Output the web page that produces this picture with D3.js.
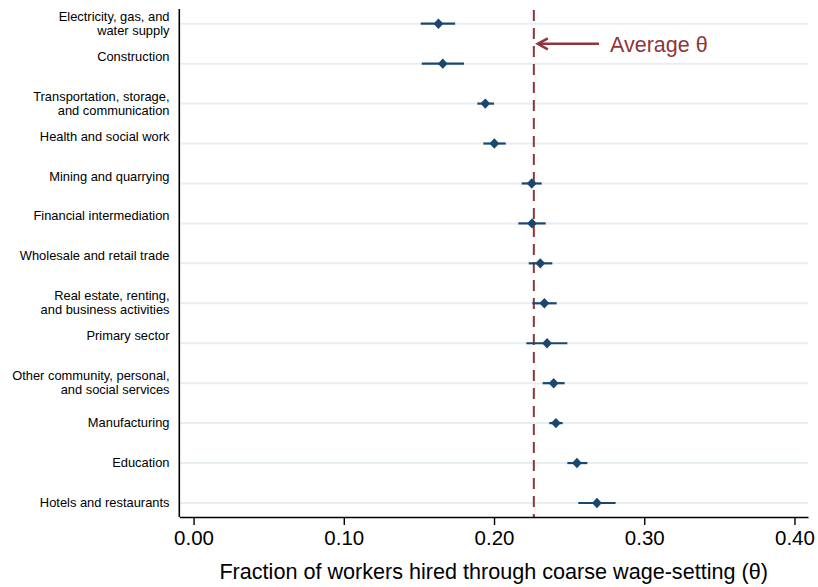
<!DOCTYPE html>
<html>
<head>
<meta charset="utf-8">
<script src="https://cdn.jsdelivr.net/npm/d3@7"></script>
<style>
  html, body { margin: 0; padding: 0; background: #fff; }
  svg { display: block; font-family: "Liberation Sans", Arial, Helvetica, sans-serif; }
</style>
</head>
<body>
<svg id="chart" width="818" height="587"></svg>
<script>
// ---- Data ----
const categories = [
  ["Electricity, gas, and", "water supply"],
  ["Construction", ""],
  ["Transportation, storage,", "and communication"],
  ["Health and social work", ""],
  ["Mining and quarrying", ""],
  ["Financial intermediation", ""],
  ["Wholesale and retail trade", ""],
  ["Real estate, renting,", "and business activities"],
  ["Primary sector", ""],
  ["Other community, personal,", "and social services"],
  ["Manufacturing"],
  ["Education"],
  ["Hotels and restaurants"]
];
const theta   = [0.1630, 0.1659, 0.1942, 0.2002, 0.2251, 0.2253, 0.2308, 0.2335, 0.2353, 0.2397, 0.2412, 0.2552, 0.2685];
const ciLow   = [0.1512, 0.1519, 0.1889, 0.1929, 0.2184, 0.2162, 0.2231, 0.2255, 0.2215, 0.2324, 0.2368, 0.2488, 0.2561];
const ciHigh  = [0.1741, 0.1800, 0.2000, 0.2078, 0.2317, 0.2344, 0.2388, 0.2417, 0.2488, 0.2470, 0.2457, 0.2621, 0.2809];
const averageTheta = 0.2265;
const xTicks = [0.00, 0.10, 0.20, 0.30, 0.40];
const xTitle = "Fraction of workers hired through coarse wage-setting (\u03B8)";
const annotationText = "Average \u03B8";

// ---- Layout ----
const plotLeft = 179.3, plotRight = 808, plotTop = 9, plotBottom = 517;
const navy = "#1a476f", cranberry = "#90353b", gridCol = "#e7eef2";

const svg = d3.select("#chart");

const x = d3.scaleLinear().domain([-0.0095, 0.409]).range([plotLeft, plotRight]);
const y = d3.scalePoint().domain(d3.range(categories.length)).range([23.7, 503]);

// gridlines
svg.append("g").selectAll("line").data(d3.range(categories.length)).join("line")
  .attr("x1", plotLeft + 1).attr("x2", plotRight)
  .attr("y1", d => y(d)).attr("y2", d => y(d))
  .attr("stroke", gridCol).attr("stroke-width", 2);

// category labels (one text element per category, lines as tspans)
const lineGap = 14, labelRight = 169.5;
const lab = svg.append("g").attr("font-size", 12.4).attr("fill", "#000").attr("text-anchor", "end")
  .attr("transform", `translate(${labelRight},0) scale(1.04,1) translate(${-labelRight},0)`);
categories.forEach((lines, i) => {
  const n = lines.length;
  const txt = lab.append("text");
  lines.forEach((t, j) => {
    if (!t) return;
    const cy = y(i) + (j - (n - 1) / 2) * lineGap;
    txt.append("tspan").attr("x", labelRight).attr("y", cy).attr("dy", "0.33em").text(t);
  });
});

// average line
svg.append("line")
  .attr("x1", x(averageTheta)).attr("x2", x(averageTheta))
  .attr("y1", 10).attr("y2", plotBottom)
  .attr("stroke", cranberry).attr("stroke-width", 2)
  .attr("stroke-dasharray", "11,7");

// CI bars
svg.append("g").selectAll("line").data(d3.range(categories.length)).join("line")
  .attr("x1", d => x(ciLow[d])).attr("x2", d => x(ciHigh[d]))
  .attr("y1", d => y(d)).attr("y2", d => y(d))
  .attr("stroke", navy).attr("stroke-width", 2.2);

// diamonds
const r = 5.2;
svg.append("g").selectAll("path").data(d3.range(categories.length)).join("path")
  .attr("d", d => {
    const cx = x(theta[d]), cy = y(d);
    return `M${cx},${cy - r}L${cx + r * 0.95},${cy}L${cx},${cy + r}L${cx - r * 0.95},${cy}Z`;
  })
  .attr("fill", navy);

// y axis line
svg.append("line").attr("x1", plotLeft).attr("x2", plotLeft)
  .attr("y1", plotTop).attr("y2", plotBottom)
  .attr("stroke", "#000").attr("stroke-width", 1.6);

// x axis
const xAxis = d3.axisBottom(x).tickValues(xTicks).tickFormat(d3.format(".2f"))
  .tickSizeInner(8).tickSizeOuter(0).tickPadding(5);
const gx = svg.append("g").attr("transform", `translate(0,${plotBottom})`).call(xAxis);
gx.select(".domain").attr("stroke", "#000").attr("stroke-width", 1.6);
gx.selectAll(".tick line").attr("stroke", "#000").attr("stroke-width", 1.4);
gx.selectAll(".tick text").attr("font-size", 20.5).attr("fill", "#000")
  .attr("font-family", "'Liberation Sans', Arial, sans-serif");

// x title
svg.append("text").attr("x", (plotLeft + plotRight) / 2).attr("y", 578.5)
  .attr("text-anchor", "middle").attr("font-size", 21.6).attr("fill", "#000")
  .text(xTitle);

// annotation arrow
const ay = 43.8;
const tipX = x(averageTheta) + 4;
svg.append("line").attr("x1", tipX + 1).attr("x2", 599).attr("y1", ay).attr("y2", ay)
  .attr("stroke", cranberry).attr("stroke-width", 2.6);
svg.append("path")
  .attr("d", `M${tipX + 10},${ay - 5.5}L${tipX},${ay}L${tipX + 10},${ay + 5.5}`)
  .attr("fill", "none").attr("stroke", cranberry).attr("stroke-width", 2.6)
  .attr("stroke-linejoin", "miter");
svg.append("text").attr("x", 610).attr("y", 51.8)
  .attr("font-size", 21.5).attr("fill", cranberry).text(annotationText);
</script>
</body>
</html>
